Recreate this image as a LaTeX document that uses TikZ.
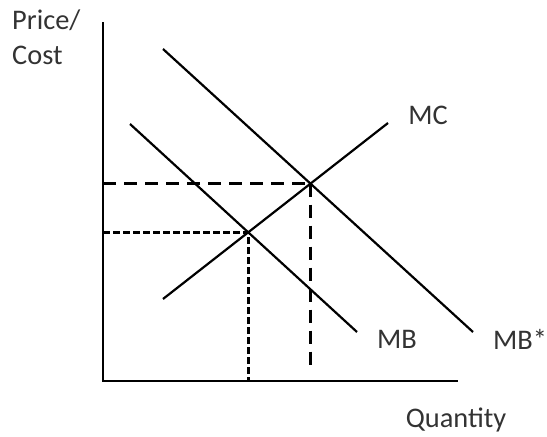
\documentclass[tikz,border=0pt]{standalone}
\usepackage{fontspec}
\setmainfont{Carlito}
\usetikzlibrary{calc}

\begin{document}
\begin{tikzpicture}[x=1bp,y=-1bp,
  axisline/.style={line width=2.6bp,line cap=rect},
  curve/.style={line width=2.2bp},
  longdash/.style={line width=2.6bp,dash pattern=on 13bp off 8bp},
  shortdash/.style={line width=2.6bp,dash pattern=on 7bp off 3bp},
  lab/.style={font=\fontsize{28.5}{35}\selectfont,inner sep=0pt,text=black!80}]
\useasboundingbox (0,0) rectangle (547,437);
% ================= axes =================
\coordinate (origin) at (103,381);
\coordinate (ytop) at (103,23);
\coordinate (xend) at (457,381);
\draw[axisline] (ytop)--(origin)--(xend);
\node[lab,anchor=north west,align=left] (ylab) at (12,10) {Price/\\Cost};
\node[lab,anchor=center] (xlab) at (456,420) {Quantity};
% ================= curves =================
\coordinate (mcA) at (163,299);
\coordinate (mcB) at (388,123);
\coordinate (mbA) at (130,124);
\coordinate (mbB) at (357,332);
\coordinate (mbsA) at (163,49);
\coordinate (mbsB) at (473,332);
\draw[curve] (mcA)--(mcB);
\draw[curve] (mbA)--(mbB);
\draw[curve] (mbsA)--(mbsB);
\node[lab,anchor=center] (mclab) at (428,115) {MC};
\node[lab,anchor=center] (mblab) at (397,339) {MB};
\node[lab,anchor=west] (mbslab) at (493,339) {MB*};
% equilibria
\coordinate (eq) at (intersection of mcA--mcB and mbA--mbB);
\coordinate (eqs) at (intersection of mcA--mcB and mbsA--mbsB);
% ================= dashed guides =================
\coordinate (eqy) at (origin|-eq);
\coordinate (eqx) at (eq|-origin);
\coordinate (eqsy) at (origin|-eqs);
\coordinate (eqsx) at ($(eqs|-origin)+(0,-16)$);
\draw[shortdash] (eqy)--(eq)--(eqx);
\draw[longdash] (eqsy)--(eqs);
\draw[longdash] (eqs)--(eqsx);
\end{tikzpicture}
\end{document}
